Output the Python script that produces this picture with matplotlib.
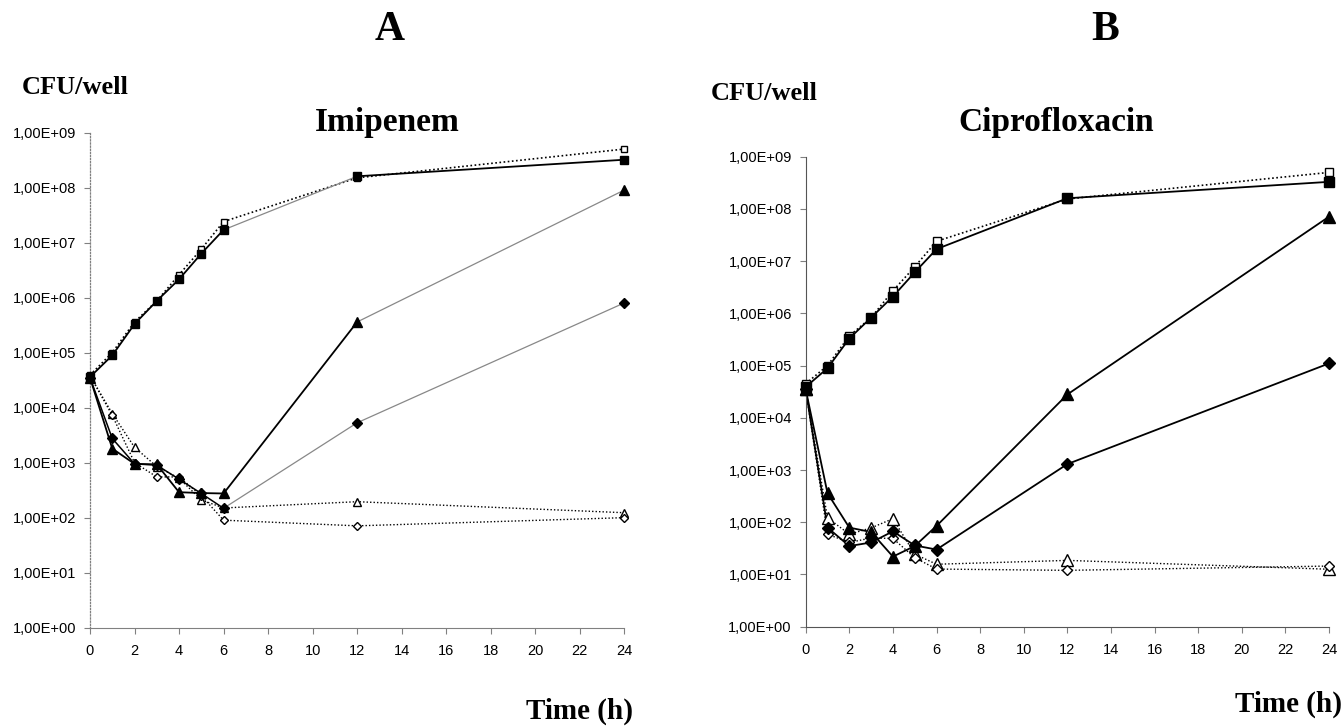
import matplotlib
matplotlib.use("Agg")
import matplotlib.pyplot as plt
import numpy as np

# ---------------- data ----------------
time_h = [0, 1, 2, 3, 4, 5, 6, 12, 24]

# Panel A - Imipenem
imi_ctrl_filled = [3.6e4, 8.9e4, 3.3e5, 8.7e5, 2.15e6, 6.3e6, 1.7e7, 1.6e8, 3.2e8]
imi_ctrl_open   = [3.9e4, 1.0e5, 3.6e5, 8.7e5, 2.6e6, 7.6e6, 2.4e7, 1.5e8, 5.0e8]
imi_tri_filled  = [3.5e4, 1.8e3, 9.5e2, 9.3e2, 2.9e2, 2.8e2, 2.75e2, 3.6e5, 9.0e7]
imi_dia_filled  = [3.5e4, 2.75e3, 9.5e2, 9.0e2, 5.0e2, 2.75e2, 1.48e2, 5.3e3, 8.0e5]
imi_tri_open    = [3.8e4, 7.8e3, 1.9e3, 8.5e2, 5.2e2, 2.1e2, 1.5e2, 1.95e2, 1.23e2]
imi_dia_open    = [3.8e4, 7.2e3, 1.0e3, 5.5e2, 5.5e2, 2.5e2, 90, 71, 100]

# Panel B - Ciprofloxacin
cip_ctrl_filled = [3.9e4, 8.9e4, 3.3e5, 8.3e5, 2.1e6, 6.1e6, 1.7e7, 1.6e8, 3.3e8]
cip_ctrl_open   = [4.5e4, 1.0e5, 3.7e5, 8.3e5, 2.7e6, 7.8e6, 2.4e7, 1.55e8, 5.0e8]
cip_tri_filled  = [3.5e4, 3.6e2, 79, 65, 22, 35, 85, 2.8e4, 7.1e7]
cip_dia_filled  = [3.5e4, 79, 35, 41, 67, 36, 30, 1.3e3, 1.1e5]
cip_tri_open    = [3.5e4, 1.22e2, 59, 78, 1.17e2, 24.5, 15.7, 18.6, 12.6]
cip_dia_open    = [3.5e4, 59, 41, 50, 49, 21, 12.7, 12, 14.5]

ytick_vals = [1e0, 1e1, 1e2, 1e3, 1e4, 1e5, 1e6, 1e7, 1e8, 1e9]
ytick_labels = ["1,00E+00", "1,00E+01", "1,00E+02", "1,00E+03", "1,00E+04",
                "1,00E+05", "1,00E+06", "1,00E+07", "1,00E+08", "1,00E+09"]
xtick_vals = [0, 2, 4, 6, 8, 10, 12, 14, 16, 18, 20, 22, 24]

serif = "Liberation Serif"
sans = "Liberation Sans"

fig = plt.figure(figsize=(13.44, 7.26), dpi=100)

axA = fig.add_axes([90/1344, 1-627.7/726, 534.3/1344, 495.2/726])
axB = fig.add_axes([805.7/1344, 1-626.7/726, 523.3/1344, 470.0/726])


def style_axis(ax, dotted_y):
    ax.set_yscale("log")
    ax.set_xlim(0, 24)
    ax.set_ylim(1, 1e9)
    ax.set_yticks(ytick_vals)
    ax.set_yticklabels(ytick_labels, fontfamily=sans, fontsize=10.5)
    ax.yaxis.set_minor_locator(matplotlib.ticker.NullLocator())
    ax.set_xticks(xtick_vals)
    ax.set_xticklabels([str(v) for v in xtick_vals], fontfamily=sans, fontsize=10.5)
    for s in ["top", "right"]:
        ax.spines[s].set_visible(False)
    ax.spines["bottom"].set_color("#808080")
    ax.spines["left"].set_color("#808080")
    if dotted_y:
        ax.spines["left"].set_linestyle((0, (1, 1.5)))
        ax.spines["left"].set_linewidth(0.9)
    else:
        ax.spines["left"].set_color("#555555")
        ax.spines["bottom"].set_color("#555555")
    ax.tick_params(axis="both", direction="out", length=4, width=0.8,
                   color="#808080", pad=4)
    ax.tick_params(axis="y", pad=6)
    ax.tick_params(axis="x", pad=8)


style_axis(axA, True)
style_axis(axB, False)

ms_sq = 6
ms_tri = 7
ms_dia = 5


def markers(ax, y, marker, filled, ms):
    ax.plot(time_h, y, linestyle="none", marker=marker, markersize=ms,
            markerfacecolor="black" if filled else "white",
            markeredgecolor="black", markeredgewidth=1.0, clip_on=False, zorder=5)


# ---- Panel A ----
dot = (0, (1, 1.5))
# open series (dotted black)
axA.plot(time_h, imi_ctrl_open, color="black", lw=1.2, ls=dot, clip_on=False)
axA.plot(time_h, imi_tri_open, color="black", lw=1.0, ls=dot, clip_on=False)
axA.plot(time_h, imi_dia_open, color="black", lw=1.0, ls=dot, clip_on=False)
# filled series: solid black then thin grey segments
axA.plot(time_h[:7], imi_ctrl_filled[:7], color="black", lw=1.3, clip_on=False)
axA.plot(time_h[6:8], imi_ctrl_filled[6:8], color="#888888", lw=0.9, clip_on=False)
axA.plot(time_h[7:], imi_ctrl_filled[7:], color="black", lw=1.3, clip_on=False)
axA.plot(time_h[:8], imi_tri_filled[:8], color="black", lw=1.3, clip_on=False)
axA.plot(time_h[7:], imi_tri_filled[7:], color="#888888", lw=0.9, clip_on=False)
axA.plot(time_h[:7], imi_dia_filled[:7], color="black", lw=1.1, clip_on=False)
axA.plot(time_h[6:], imi_dia_filled[6:], color="#888888", lw=0.9, clip_on=False)

markers(axA, imi_ctrl_open, "s", False, ms_sq - 1)
markers(axA, imi_ctrl_filled, "s", True, ms_sq)
markers(axA, imi_tri_open, "^", False, ms_tri - 1)
markers(axA, imi_dia_open, "D", False, ms_dia - 0.5)
markers(axA, imi_tri_filled, "^", True, ms_tri)
markers(axA, imi_dia_filled, "D", True, ms_dia)

# ---- Panel B ----
axB.plot(time_h, cip_ctrl_open, color="black", lw=1.2, ls=dot, clip_on=False)
axB.plot(time_h, cip_tri_open, color="black", lw=1.0, ls=dot, clip_on=False)
axB.plot(time_h, cip_dia_open, color="black", lw=1.0, ls=dot, clip_on=False)
axB.plot(time_h, cip_ctrl_filled, color="black", lw=1.3, clip_on=False)
axB.plot(time_h, cip_tri_filled, color="black", lw=1.3, clip_on=False)
axB.plot(time_h, cip_dia_filled, color="black", lw=1.3, clip_on=False)

markers(axB, cip_ctrl_open, "s", False, ms_sq)
markers(axB, cip_ctrl_filled, "s", True, ms_sq + 1)
markers(axB, cip_tri_open, "^", False, ms_tri + 1)
markers(axB, cip_dia_open, "D", False, ms_dia + 0.5)
markers(axB, cip_tri_filled, "^", True, ms_tri + 1)
markers(axB, cip_dia_filled, "D", True, ms_dia + 1)

# ---- text ----
def ftext(x, y, s, size, ha="center", va="center"):
    fig.text(x/1344, 1 - y/726, s, fontfamily=serif, fontweight="bold",
             fontsize=size, ha=ha, va=va)

ftext(390, 30, "A", 30)
ftext(1105, 30, "B", 30)
ftext(22, 88, "CFU/well", 19, ha="left")
ftext(711, 93, "CFU/well", 19, ha="left")
ftext(387, 122, "Imipenem", 24)
ftext(1056, 122, "Ciprofloxacin", 24)
ftext(633, 711, "Time (h)", 21, ha="right")
ftext(1342, 704, "Time (h)", 21, ha="right")

fig.savefig("out.png", dpi=100)
